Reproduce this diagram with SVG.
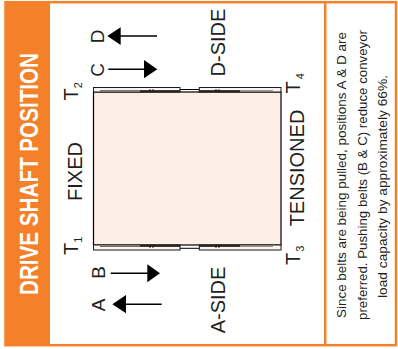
<svg xmlns="http://www.w3.org/2000/svg" width="398" height="349" viewBox="0 0 398 349">
<style>
.lbl{font-family:"Liberation Sans",Arial,sans-serif;font-size:20px;fill:#231f20}
.let{font-family:"Liberation Sans",Arial,sans-serif;font-size:19px;fill:#231f20;text-anchor:middle}
.sub{font-size:11px}
.note{font-family:"Liberation Sans",Arial,sans-serif;font-size:12.5px;fill:#231f20;text-anchor:middle}
.title{font-family:"Liberation Sans",Arial,sans-serif;font-size:26px;font-weight:bold;fill:#ffffff;text-anchor:middle}
.strip{fill:#fdf4ee;stroke:#1a1a1a;stroke-width:1}
.arr{stroke:#000;stroke-width:1.6;fill:none}
.head{fill:#000}
</style>
<rect width="398" height="349" fill="#ffffff"/>
<g id="frame">
<rect x="5" y="2" width="45" height="344" fill="#f4812a"/>
<rect x="5.5" y="2.2" width="390.5" height="343" fill="none" stroke="#f4812a" stroke-width="2.5"/>
<line x1="325.2" y1="2" x2="325.2" y2="346" stroke="#f4812a" stroke-width="2.5"/>
<text class="title" transform="translate(37.5,174) rotate(-90)" textLength="242" lengthAdjust="spacingAndGlyphs">DRIVE SHAFT POSITION</text>
</g>
<g id="conveyor">
<rect x="93.5" y="92" width="187.5" height="153" fill="#fdefe5" stroke="#000" stroke-width="1.2"/>
<rect class="strip" x="93.5" y="87.5" width="86.5" height="4.5"/>
<rect class="strip" x="199.3" y="87.5" width="81.7" height="4.5"/>
<line x1="180" y1="89.5" x2="199.3" y2="89.5" stroke="#000" stroke-width="1"/>
<line x1="100" y1="90.7" x2="140" y2="90.7" stroke="#333" stroke-width="0.8"/>
<line x1="140" y1="91" x2="180" y2="91" stroke="#000" stroke-width="1.4"/>
<line x1="199.3" y1="91" x2="240" y2="91" stroke="#000" stroke-width="1.4"/>
<line x1="240" y1="90.7" x2="273" y2="90.7" stroke="#666" stroke-width="0.8"/>
<path d="M150 89v2.5M153 89v2.5M216 89v2.5M219 89v2.5" stroke="#000" stroke-width="0.8"/>
<rect class="strip" x="93.5" y="245" width="86.5" height="5"/>
<rect class="strip" x="199.3" y="245" width="81.7" height="5"/>
<line x1="180" y1="248.3" x2="199.3" y2="248.3" stroke="#000" stroke-width="1"/>
<line x1="100" y1="246.4" x2="140" y2="246.4" stroke="#333" stroke-width="0.8"/>
<line x1="140" y1="246" x2="180" y2="246" stroke="#000" stroke-width="1.4"/>
<line x1="199.3" y1="246" x2="240" y2="246" stroke="#000" stroke-width="1.4"/>
<line x1="240" y1="246.4" x2="273" y2="246.4" stroke="#666" stroke-width="0.8"/>
<path d="M150 245.5v2.5M153 245.5v2.5M216 245.5v2.5M219 245.5v2.5" stroke="#000" stroke-width="0.8"/>
</g>
<g id="labels">
<text class="lbl" transform="translate(82,171.5) rotate(-90)" text-anchor="middle">FIXED</text>
<text class="lbl" transform="translate(304,168) rotate(-90)" text-anchor="middle">TENSIONED</text>
<text class="lbl" transform="translate(225,42.5) rotate(-90)" text-anchor="middle">D-SIDE</text>
<text class="lbl" transform="translate(225,300) rotate(-90)" text-anchor="middle">A-SIDE</text>
<text class="lbl" transform="translate(77.5,255) rotate(-90)">T<tspan class="sub" dy="4">1</tspan></text>
<text class="lbl" transform="translate(78,100.5) rotate(-90)">T<tspan class="sub" dy="4">2</tspan></text>
<text class="lbl" transform="translate(300,265) rotate(-90)">T<tspan class="sub" dx="1" dy="4">3</tspan></text>
<text class="lbl" transform="translate(300,93.5) rotate(-90)">T<tspan class="sub" dx="2" dy="4">4</tspan></text>
</g>
<g id="arrows">
<text class="let" transform="translate(104,36.5) rotate(-90)">D</text>
<text class="let" transform="translate(104,70) rotate(-90)">C</text>
<text class="let" transform="translate(104.5,272.5) rotate(-90)">B</text>
<text class="let" transform="translate(104.5,305) rotate(-90)">A</text>
<line class="arr" x1="119" y1="36" x2="157" y2="36"/>
<polygon class="head" points="107.3,36 120.7,27.3 120.7,45"/>
<line class="arr" x1="108.3" y1="69.2" x2="145" y2="69.2"/>
<polygon class="head" points="157.3,69.2 144,60 144,78.3"/>
<line class="arr" x1="110.7" y1="273.3" x2="148" y2="273.3"/>
<polygon class="head" points="160,273.3 147.3,264.3 147.3,282.3"/>
<line class="arr" x1="125" y1="304.2" x2="161.7" y2="304.2"/>
<polygon class="head" points="112.3,304.2 126,295 126,313.3"/>
</g>
<g id="note">
<text class="note" transform="translate(345.7,175) rotate(-90)" textLength="286" lengthAdjust="spacingAndGlyphs">Since belts are being pulled, positions A &amp; D are</text>
<text class="note" transform="translate(366.5,175) rotate(-90)" textLength="290" lengthAdjust="spacingAndGlyphs">preferred. Pushing belts (B &amp; C) reduce conveyor</text>
<text class="note" transform="translate(386.5,186.5) rotate(-90)" textLength="223" lengthAdjust="spacingAndGlyphs">load capacity by approximately 66%.</text>
</g>
</svg>
